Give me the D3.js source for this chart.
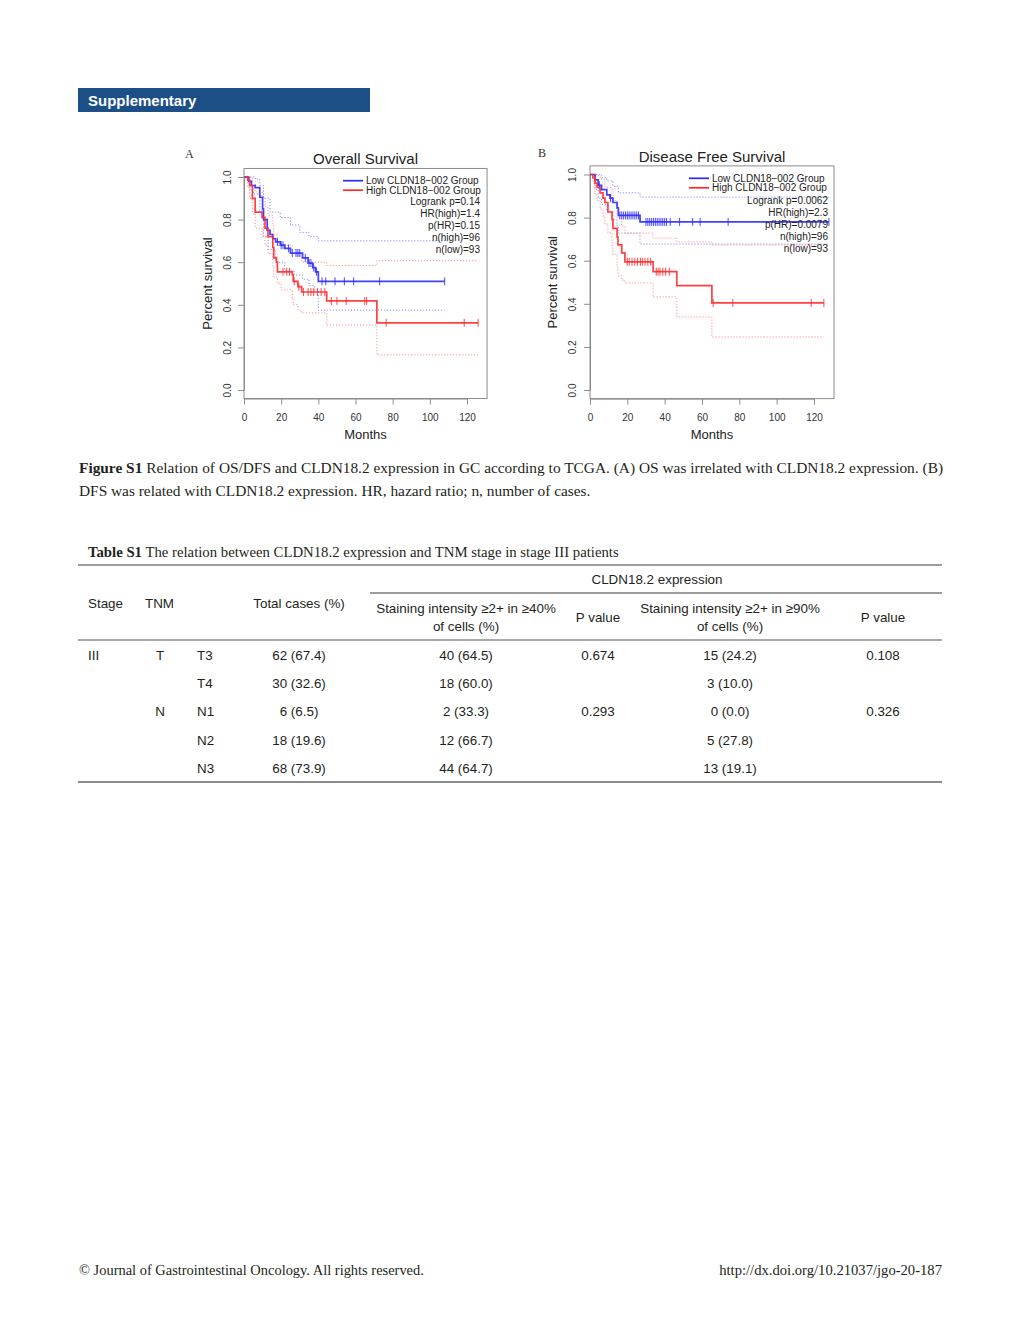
<!DOCTYPE html>
<html><head><meta charset="utf-8">
<script src="https://cdn.jsdelivr.net/npm/d3@7"></script>
<style>body{margin:0;background:#fff} svg{display:block}</style>
</head><body>
<svg id="c" width="1020" height="1335"></svg>
<script>
// ---------------- DATA ----------------
const xTicks = [0, 20, 40, 60, 80, 100, 120];
const yTicks = [0, 0.2, 0.4, 0.6, 0.8, 1.0];
const legendLabels = ["Low CLDN18\u2212002 Group", "High CLDN18\u2212002 Group"];
const osStats = ["Logrank p=0.14", "HR(high)=1.4", "p(HR)=0.15", "n(high)=96", "n(low)=93"];
const dfsStats = ["Logrank p=0.0062", "HR(high)=2.3", "p(HR)=0.0079", "n(high)=96", "n(low)=93"];

// Overall survival, low group (blue): [month, survival]
const osLowSteps = [[0,1],[2.5,0.98],[4,0.96],[6,0.95],[8.5,0.905],[10,0.85],[10.5,0.80],[12.5,0.75],[14,0.73],[15.5,0.71],[17,0.695],[19.5,0.68],[22,0.665],[25,0.643],[31.5,0.62],[34.5,0.596],[37,0.575],[38.5,0.555],[40,0.51]];
const osLowEnd = 108;
const osLowCensor = [18,20,21,24,26,28,29,30,33,35,36,37.5,39,42,44,49,54,59,73,108];
const osLowUpper = [[0,1],[6,0.99],[8.5,0.96],[10.5,0.90],[14,0.835],[19.5,0.81],[25,0.775],[30,0.74],[35,0.72],[40,0.70]];
const osLowLower = [[0,1],[3,0.94],[5,0.92],[8.5,0.84],[10.5,0.72],[13,0.66],[17,0.60],[22,0.56],[27,0.54],[31.5,0.52],[35,0.49],[38,0.47],[40,0.375]];

// Overall survival, high group (red)
const osHighSteps = [[0,1],[2,0.985],[3,0.96],[4.5,0.90],[6,0.835],[9.7,0.81],[11.3,0.76],[12.9,0.72],[15.5,0.67],[16,0.62],[17.5,0.60],[18,0.555],[26,0.54],[26.5,0.51],[29,0.485],[31,0.46],[44.5,0.418],[71.5,0.315]];
const osHighEnd = 126;
const osHighCensor = [21,23,24.5,27,29.5,32,34.5,36,37.5,39.5,41.5,43.5,47,50,55,65,66,76.5,118.5,126];
const osHighUpper = [[0,1],[4.5,0.98],[6,0.93],[9.7,0.90],[11.3,0.86],[12.9,0.82],[15.5,0.77],[16,0.73],[18,0.68],[26,0.66],[29,0.63],[31,0.60],[44.5,0.585],[71.5,0.607]];
const osHighLower = [[0,1],[2,0.95],[3,0.90],[4.5,0.83],[6,0.76],[9.7,0.72],[11.3,0.68],[12.9,0.64],[15.5,0.58],[16,0.53],[18,0.50],[20,0.47],[26,0.43],[26.5,0.40],[29,0.375],[31,0.362],[44.5,0.305],[71.5,0.165]];

// Disease free survival, low group (blue)
const dfsLowSteps = [[0,1],[2.7,0.975],[4.4,0.95],[6.2,0.93],[9,0.905],[10.7,0.89],[12.3,0.87],[14.5,0.845],[15.2,0.81],[26.8,0.78]];
const dfsLowEnd = 128;
const dfsLowCensor = [5,11,16,17,18,19,20,21,22,23,24,25,26,30,31,32,33,34,35,36,37,38,39,40,41,43,48,55,59,74,128];
const dfsLowUpper = [[0,1],[4.4,0.995],[6.2,0.985],[9,0.97],[12.3,0.945],[15.2,0.915],[26.8,0.895]];
const dfsLowLower = [[0,1],[2.7,0.93],[4.4,0.89],[6.2,0.86],[9,0.83],[12.3,0.79],[14.5,0.76],[15.2,0.728],[26.8,0.677]];

// Disease free survival, high group (red)
const dfsHighSteps = [[0,1],[1.5,0.985],[2.7,0.96],[3.8,0.94],[5.4,0.915],[7,0.89],[8,0.87],[9.6,0.826],[11.8,0.79],[12.3,0.75],[14.5,0.71],[15,0.673],[17,0.636],[18.7,0.595],[33.8,0.549],[46.5,0.484],[65.3,0.404]];
const dfsHighEnd = 125.3;
const dfsHighCensor = [20,21,22.5,24,25.5,27,28,29.5,31,32.5,35.5,36.5,37.5,39,40.5,42.5,66,76.5,118.5,125.3];
const dfsHighUpper = [[0,1],[2.7,1.0],[5.4,0.98],[8,0.94],[11.8,0.88],[14.5,0.80],[17,0.76],[18.7,0.728],[33.8,0.705],[46.5,0.687],[65.3,0.673]];
const dfsHighLower = [[0,1],[1.5,0.96],[2.7,0.91],[3.8,0.88],[5.4,0.84],[7,0.80],[8,0.77],[9.6,0.73],[11.8,0.67],[12.3,0.63],[14.5,0.57],[15,0.53],[17,0.51],[18.7,0.497],[33.8,0.432],[46.5,0.339],[65.3,0.246]];

// Table
const tableHeaderTop = "CLDN18.2 expression";
const stageCol = ["III", "", "", "", ""];
const tnmGroup = ["T", "", "N", "", ""];
const tnmSub = ["T3", "T4", "N1", "N2", "N3"];
const totalCases = ["62 (67.4)", "30 (32.6)", "6 (6.5)", "18 (19.6)", "68 (73.9)"];
const stain40 = ["40 (64.5)", "18 (60.0)", "2 (33.3)", "12 (66.7)", "44 (64.7)"];
const p40 = ["0.674", "", "0.293", "", ""];
const stain90 = ["15 (24.2)", "3 (10.0)", "0 (0.0)", "5 (27.8)", "13 (19.1)"];
const p90 = ["0.108", "", "0.326", "", ""];

// ---------------- DRAWING ----------------
const svg = d3.select("#c");
const SANS = "'Liberation Sans', Arial, Helvetica, sans-serif";
const SERIF = "'Liberation Serif', 'Times New Roman', serif";
const BLUE = "#2b2bff", RED = "#ff2b2b";
const BLUE_CI = "#8a8aff", RED_CI = "#ff8f8f";

// Banner
svg.append("rect").attr("x", 78).attr("y", 88).attr("width", 292).attr("height", 24).attr("fill", "#1c4f86");
svg.append("text").attr("x", 88).attr("y", 105.5).attr("font-family", SANS).attr("font-weight", "bold")
  .attr("font-size", 15).attr("fill", "#fff").text("Supplementary");

function survAt(steps, t) {
  let s = steps[0][1];
  for (const d of steps) { if (d[0] <= t) s = d[1]; }
  return s;
}

function drawPanel(p) {
  const x = d3.scaleLinear().domain([0, 120]).range(p.xr);
  const y = d3.scaleLinear().domain([0, 1]).range(p.yr);
  const g = svg.append("g");
  const x0 = x(0), x1 = x(p.xMax), yT = y(1.04), yB = y(-0.04);

  g.append("text").attr("x", p.letterX).attr("y", p.letterY).attr("font-family", SERIF)
    .attr("font-size", 12).attr("fill", "#333").text(p.letter);
  g.append("text").attr("x", (x0 + x1) / 2).attr("y", p.titleY).attr("text-anchor", "middle")
    .attr("font-family", SANS).attr("font-size", 15).attr("fill", "#222").text(p.title);

  g.append("rect").attr("x", x0).attr("y", yT).attr("width", x1 - x0).attr("height", yB - yT)
    .attr("fill", "none").attr("stroke", "#8c8c8c").attr("stroke-width", 1);

  const xa = g.append("g").attr("transform", `translate(0,${yB})`)
    .call(d3.axisBottom(x).tickValues(xTicks).tickSize(6).tickSizeOuter(0).tickFormat(d3.format("d")));
  xa.select(".domain").attr("stroke", "#8c8c8c");
  xa.selectAll(".tick line").attr("stroke", "#8c8c8c");
  xa.selectAll(".tick text").attr("y", 15).attr("font-family", SANS).attr("font-size", 10).attr("fill", "#333");

  const ya = g.append("g").attr("transform", `translate(${x0},0)`)
    .call(d3.axisLeft(y).tickValues(yTicks).tickSize(6).tickSizeOuter(0).tickFormat(d3.format(".1f")));
  ya.select(".domain").attr("stroke", "#8c8c8c");
  ya.selectAll(".tick line").attr("stroke", "#8c8c8c");
  ya.selectAll(".tick text").attr("x", null).attr("dy", null)
    .attr("transform", `translate(${p.yLabOff},0) rotate(-90)`)
    .attr("text-anchor", "middle").attr("dominant-baseline", "central")
    .attr("font-family", SANS).attr("font-size", 10).attr("fill", "#333");

  g.append("text").attr("x", (x0 + x1) / 2).attr("y", 439).attr("text-anchor", "middle")
    .attr("font-family", SANS).attr("font-size", 13).attr("fill", "#222").text("Months");
  const ylx = p.ylabX, yly = (yT + yB) / 2;
  g.append("text").attr("transform", `translate(${ylx},${yly}) rotate(-90)`).attr("text-anchor", "middle")
    .attr("dominant-baseline", "central")
    .attr("font-family", SANS).attr("font-size", 13).attr("fill", "#222").text("Percent survival");

  const line = d3.line().x(d => x(d[0])).y(d => y(d[1])).curve(d3.curveStepAfter);
  const withEnd = (arr, end) => arr.concat([[end, arr[arr.length - 1][1]]]);

  p.groups.forEach(gr => {
    [gr.upper, gr.lower].forEach(ci => {
      g.append("path").attr("d", line(withEnd(ci, gr.end))).attr("fill", "none")
        .attr("stroke", gr.ci).attr("stroke-width", 1).attr("stroke-dasharray", "1.2,1.8");
    });
  });
  p.groups.forEach(gr => {
    g.append("path").attr("d", line(withEnd(gr.steps, gr.end))).attr("fill", "none")
      .attr("stroke", gr.color).attr("stroke-width", 1.7).attr("stroke-opacity", 0.9);
    g.selectAll(null).data(gr.censor).enter().append("line")
      .attr("x1", d => x(d)).attr("x2", d => x(d))
      .attr("y1", d => y(survAt(gr.steps, d)) - 4).attr("y2", d => y(survAt(gr.steps, d)) + 4)
      .attr("stroke", gr.color).attr("stroke-width", 1).attr("stroke-opacity", 0.85);
  });

  const lg = p.legend;
  legendLabels.forEach((lab, i) => {
    const ly = lg.y + i * lg.dy;
    g.append("line").attr("x1", lg.x).attr("x2", lg.x + 20).attr("y1", ly).attr("y2", ly)
      .attr("stroke", i === 0 ? BLUE : RED).attr("stroke-width", 1.7);
    g.append("text").attr("x", lg.x + 23).attr("y", ly).attr("dominant-baseline", "central")
      .attr("font-family", SANS).attr("font-size", 10).attr("fill", "#222").text(lab);
  });
  p.stats.forEach((s, i) => {
    g.append("text").attr("x", lg.statX).attr("y", lg.statY + i * 12.1).attr("text-anchor", "end")
      .attr("dominant-baseline", "central").attr("font-family", SANS).attr("font-size", 10)
      .attr("fill", "#222").text(s);
  });
}

drawPanel({
  xr: [244, 467], yr: [390, 177], xMax: 130.8,
  letter: "A", letterX: 185, letterY: 158, title: "Overall Survival", titleY: 164,
  yLabOff: -17, ylabX: 207,
  groups: [
    {steps: osLowSteps, end: osLowEnd, censor: osLowCensor, upper: osLowUpper, lower: osLowLower, color: BLUE, ci: BLUE_CI},
    {steps: osHighSteps, end: osHighEnd, censor: osHighCensor, upper: osHighUpper, lower: osHighLower, color: RED, ci: RED_CI}
  ],
  stats: osStats,
  legend: {x: 343, y: 180.7, dy: 9.5, statX: 480, statY: 201.5}
});
drawPanel({
  xr: [590, 814], yr: [390, 174.5], xMax: 130.7,
  letter: "B", letterX: 538, letterY: 157, title: "Disease Free Survival", titleY: 162,
  yLabOff: -18, ylabX: 552,
  groups: [
    {steps: dfsLowSteps, end: dfsLowEnd, censor: dfsLowCensor, upper: dfsLowUpper, lower: dfsLowLower, color: BLUE, ci: BLUE_CI},
    {steps: dfsHighSteps, end: dfsHighEnd, censor: dfsHighCensor, upper: dfsHighUpper, lower: dfsHighLower, color: RED, ci: RED_CI}
  ],
  stats: dfsStats,
  legend: {x: 689, y: 178.3, dy: 9.5, statX: 828, statY: 200.5}
});

// ---------------- CAPTION ----------------
const TXT = "#231f20";
function serifLine(xp, yp, boldPart, rest, fs) {
  const t = svg.append("text").attr("x", xp).attr("y", yp).attr("font-family", SERIF)
    .attr("font-size", fs).attr("fill", TXT);
  if (boldPart) t.append("tspan").attr("font-weight", "bold").text(boldPart);
  t.append("tspan").text(rest);
  return t;
}
const cap2 = serifLine(79, 496, "", "DFS was related with CLDN18.2 expression. HR, hazard ratio; n, number of cases.", 14);
const w2 = cap2.node().getComputedTextLength();
const capFs = 14 * 512 / w2;
cap2.attr("font-size", capFs);
const cap1 = serifLine(79, 473, "Figure S1", " Relation of OS/DFS and CLDN18.2 expression in GC according to TCGA. (A) OS was irrelated with CLDN18.2 expression. (B)", capFs);
const w1 = cap1.node().getComputedTextLength();
const nSp = (cap1.text().match(/ /g) || []).length;
cap1.attr("word-spacing", (864 - w1) / nSp);

const tt = serifLine(88, 557, "Table S1", " The relation between CLDN18.2 expression and TNM stage in stage III patients", 13);
tt.attr("font-size", 13 * 531 / tt.node().getComputedTextLength());

// ---------------- TABLE ----------------
function tline(x1, x2, yy, col, w) {
  svg.append("line").attr("x1", x1).attr("x2", x2).attr("y1", yy).attr("y2", yy).attr("stroke", col).attr("stroke-width", w);
}
tline(78, 942, 565, "#3a3a3a", 1);
tline(370, 942, 593, "#3a3a3a", 1);
tline(78, 942, 640, "#555", 1);
tline(78, 942, 782, "#666", 1.6);

function ttext(xp, yp, s, anchor) {
  svg.append("text").attr("x", xp).attr("y", yp).attr("text-anchor", anchor || "middle")
    .attr("dominant-baseline", "central").attr("font-family", SANS).attr("font-size", 13.4)
    .attr("fill", TXT).text(s);
}
ttext(657, 579, tableHeaderTop);
ttext(88, 603, "Stage", "start");
ttext(145, 603, "TNM", "start");
ttext(299, 603, "Total cases (%)");
ttext(466, 608, "Staining intensity \u22652+ in \u226540%");
ttext(466, 626, "of cells (%)");
ttext(598, 617, "P value");
ttext(730, 608, "Staining intensity \u22652+ in \u226590%");
ttext(730, 626, "of cells (%)");
ttext(883, 617, "P value");

const rowY = [655, 683, 711, 740, 768];
rowY.forEach((ry, i) => {
  if (stageCol[i]) ttext(88, ry, stageCol[i], "start");
  if (tnmGroup[i]) ttext(160, ry, tnmGroup[i]);
  ttext(197, ry, tnmSub[i], "start");
  ttext(299, ry, totalCases[i]);
  ttext(466, ry, stain40[i]);
  if (p40[i]) ttext(598, ry, p40[i]);
  ttext(730, ry, stain90[i]);
  if (p90[i]) ttext(883, ry, p90[i]);
});

// ---------------- FOOTER ----------------
const f1 = svg.append("text").attr("x", 79).attr("y", 1275).attr("font-family", SERIF).attr("font-size", 13)
  .attr("fill", TXT).text("\u00a9 Journal of Gastrointestinal Oncology. All rights reserved.");
f1.attr("font-size", 13 * 345 / f1.node().getComputedTextLength());
const f2 = svg.append("text").attr("x", 942).attr("y", 1275).attr("text-anchor", "end").attr("font-family", SERIF)
  .attr("font-size", 13).attr("fill", TXT).text("http://dx.doi.org/10.21037/jgo-20-187");
f2.attr("font-size", 13 * 223 / f2.node().getComputedTextLength());
</script></body></html>
